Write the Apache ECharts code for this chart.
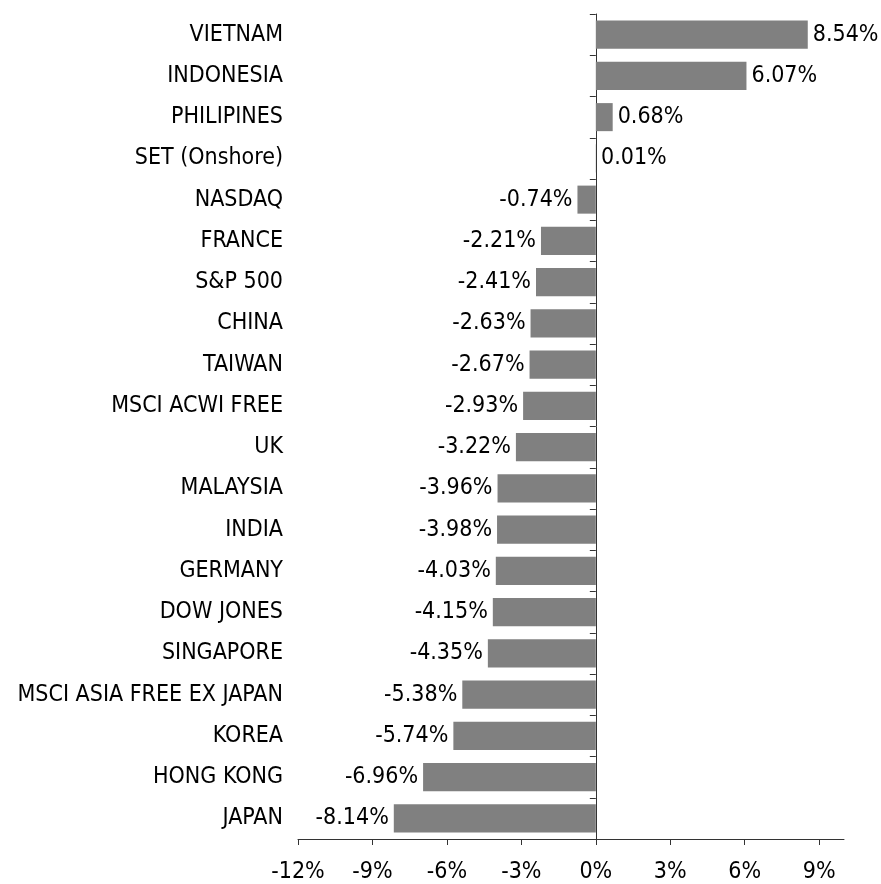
<!DOCTYPE html>
<html>
<head>
<meta charset="utf-8">
<script src="https://cdn.jsdelivr.net/npm/echarts@6/dist/echarts.min.js"></script>
<style>
  html, body { margin: 0; padding: 0; background: #fff; }
</style>
</head>
<body>
<!-- chart container -->
<div id="main" style="width: 881px; height: 884px"></div>
<script>
// categories, top to bottom
var categories = ['VIETNAM', 'INDONESIA', 'PHILIPINES', 'SET (Onshore)', 'NASDAQ', 'FRANCE',
  'S&P 500', 'CHINA', 'TAIWAN', 'MSCI ACWI FREE', 'UK', 'MALAYSIA', 'INDIA', 'GERMANY',
  'DOW JONES', 'SINGAPORE', 'MSCI ASIA FREE EX JAPAN', 'KOREA', 'HONG KONG', 'JAPAN'];
// returns in %
var returns = [8.54, 6.07, 0.68, 0.01, -0.74, -2.21, -2.41, -2.63, -2.67, -2.93, -3.22,
  -3.96, -3.98, -4.03, -4.15, -4.35, -5.38, -5.74, -6.96, -8.14];
// x axis ticks
var xMin = -12, xMax = 10, xStep = 3;

var font = '"DejaVu Sans Condensed", "Liberation Sans", sans-serif';
var fs = 23;
var myChart = echarts.init(document.getElementById('main'));

var option = {
  animation: false,
  textStyle: { fontFamily: font },
  grid: { left: 298, right: 37, top: 14, bottom: 44, containLabel: false },
  xAxis: {
    type: 'value',
    min: xMin,
    max: xMax,
    interval: xStep,
    splitLine: { show: false },
    axisLine: { show: true, lineStyle: { color: '#333' } },
    axisTick: { show: true, length: 6, lineStyle: { color: '#333' } },
    axisLabel: {
      color: '#000', fontSize: fs, fontFamily: font, margin: 22,
      showMaxLabel: false,
      formatter: function (v) { return v + '%'; }
    }
  },
  yAxis: [
    {
      // labels on the left edge
      type: 'category',
      inverse: true,
      data: categories,
      axisLine: { show: false, onZero: false },
      axisTick: { show: false },
      axisLabel: { color: '#000', fontSize: fs, fontFamily: font, margin: 15, padding: [6, 0, 0, 0] }
    },
    {
      // axis line at zero
      type: 'category',
      inverse: true,
      position: 'left',
      data: categories,
      axisLine: { show: true, onZero: true, lineStyle: { color: '#333' } },
      axisTick: { show: true, length: 6, lineStyle: { color: '#333' } },
      axisLabel: { show: false }
    }
  ],
  series: [
    {
      type: 'bar',
      yAxisIndex: 0,
      data: returns,
      barWidth: '68%',
      itemStyle: { color: '#808080' },
      label: {
        show: true,
        position: 'outside',
        distance: 5,
        color: '#000',
        fontSize: fs,
        fontFamily: font,
        padding: [6, 0, 0, 0],
        formatter: function (p) { return p.value.toFixed(2) + '%'; }
      }
    }
  ]
};

myChart.setOption(option);
</script>
</body>
</html>
